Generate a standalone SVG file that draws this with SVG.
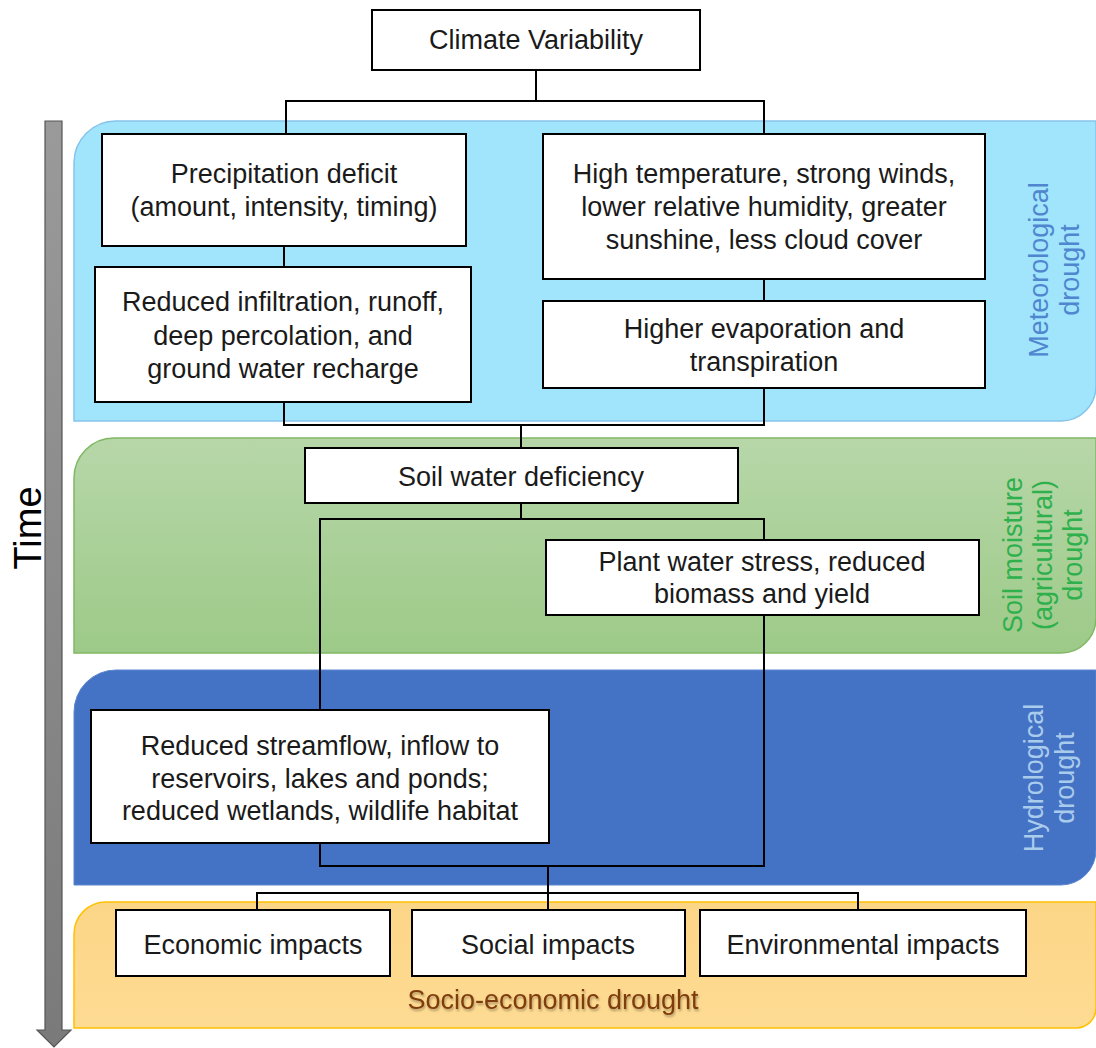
<svg xmlns="http://www.w3.org/2000/svg" width="1096" height="1048" viewBox="0 0 1096 1048">
<defs>
<linearGradient id="gGreen" x1="0" y1="0" x2="0" y2="1"><stop offset="0" stop-color="#b7d7a9"/><stop offset="1" stop-color="#9dca88"/></linearGradient>
<linearGradient id="gYellow" x1="0" y1="0" x2="0" y2="1"><stop offset="0" stop-color="#fcd687"/><stop offset="1" stop-color="#fedb93"/></linearGradient>
<linearGradient id="gArrow" x1="0" y1="0" x2="0" y2="1"><stop offset="0" stop-color="#9a9a9a"/><stop offset="1" stop-color="#7a7a7a"/></linearGradient>
<filter id="sh" x="-5%" y="-20%" width="110%" height="150%"><feDropShadow dx="1" dy="2" stdDeviation="1.2" flood-color="#000" flood-opacity="0.3"/></filter>
<style>
.box{fill:#fff;stroke:#000;stroke-width:2}
.t{font-family:"Liberation Sans",Arial,sans-serif;font-size:27px;fill:#1a1a1a;text-anchor:middle}
.lbl{font-family:"Liberation Sans",Arial,sans-serif;font-size:27px;text-anchor:middle}
.con{fill:none;stroke:#000;stroke-width:2}
</style>
</defs>
<g id="bands">
<path id="band-meteo" d="M74,163 A42,42 0 0 1 116,121 H1096 V386 A35,35 0 0 1 1061,421 H74 Z" fill="#a0e5fc" stroke="#86c3ea" stroke-width="1.5"/>
<path id="band-soil" d="M74,478 A40,40 0 0 1 114,438 H1096 V618 A35,35 0 0 1 1061,653 H74 Z" fill="url(#gGreen)" stroke="#7fb862" stroke-width="1.5"/>
<path id="band-hydro" d="M74,712 A42,42 0 0 1 116,670 H1096 V850 A35,35 0 0 1 1061,885 H74 Z" fill="#4472c4" stroke="#5a86cf" stroke-width="1"/>
<path id="band-socio" d="M74,934 A32,32 0 0 1 106,902 H1096 V1008 A20,20 0 0 1 1076,1028 H74 Z" fill="url(#gYellow)" stroke="#ffc000" stroke-width="1.5"/>
</g>
<g id="time-arrow">
<path d="M45,121 H62 V1030 H71 L54,1047 L37,1030 H45 Z" fill="url(#gArrow)" stroke="#555" stroke-width="1.2"/>
<text transform="translate(41,528) rotate(-90)" font-family="'Liberation Sans',Arial,sans-serif" font-size="38" fill="#000" text-anchor="middle">Time</text>
</g>
<g id="band-labels">
<text class="lbl" fill="#4f86cf" transform="translate(1048,270) rotate(-90)"><tspan x="0" y="0">Meteorological</tspan><tspan x="0" y="31">drought</tspan></text>
<text class="lbl" fill="#2eb04d" transform="translate(1022,555) rotate(-90)"><tspan x="0" y="0">Soil moisture</tspan><tspan x="0" y="30">(agricultural)</tspan><tspan x="0" y="60">drought</tspan></text>
<text class="lbl" fill="#a9cbec" transform="translate(1043,778) rotate(-90)"><tspan x="0" y="0">Hydrological</tspan><tspan x="0" y="31">drought</tspan></text>
<text class="t" style="fill:#7f3d0e" filter="url(#sh)" x="553" y="1009">Socio-economic drought</text>
</g>
<g id="connectors">
<path class="con" d="M536,70 V101 M286,134 V101 H764 V134"/>
<path class="con" d="M764,279 V301"/>
<path class="con" d="M284,246 V267"/>
<path class="con" d="M284,402 V425 H764 V388 M521,425 V448"/>
<path class="con" d="M521,503 V519 M320,710 V519 H764 V540"/>
<path class="con" d="M764,615 V866 H320 V843 M548,866 V910"/>
<path class="con" d="M257,910 V893 H858 V910"/>
</g>
<g id="n-climate"><rect class="box" x="372" y="10" width="328" height="60"/><text class="t" x="536" y="49">Climate Variability</text></g>
<g id="n-precip"><rect class="box" x="102" y="134" width="364" height="112"/><text class="t"><tspan x="284" y="183">Precipitation deficit</tspan><tspan x="284" y="216">(amount, intensity, timing)</tspan></text></g>
<g id="n-hightemp"><rect class="box" x="543" y="134" width="442" height="145"/><text class="t"><tspan x="764" y="183">High temperature, strong winds,</tspan><tspan x="764" y="216">lower relative humidity, greater</tspan><tspan x="764" y="249">sunshine, less cloud cover</tspan></text></g>
<g id="n-infil"><rect class="box" x="95" y="267" width="376" height="135"/><text class="t"><tspan x="283" y="311">Reduced infiltration, runoff,</tspan><tspan x="283" y="345">deep percolation, and</tspan><tspan x="283" y="378">ground water recharge</tspan></text></g>
<g id="n-evap"><rect class="box" x="543" y="301" width="442" height="87"/><text class="t"><tspan x="764" y="338">Higher evaporation and</tspan><tspan x="764" y="371">transpiration</tspan></text></g>
<g id="n-soil"><rect class="box" x="305" y="448" width="433" height="55"/><text class="t" x="521" y="486">Soil water deficiency</text></g>
<g id="n-plant"><rect class="box" x="546" y="540" width="433" height="75"/><text class="t"><tspan x="762" y="571">Plant water stress, reduced</tspan><tspan x="762" y="603">biomass and yield</tspan></text></g>
<g id="n-stream"><rect class="box" x="91" y="710" width="458" height="133"/><text class="t"><tspan x="320" y="755">Reduced streamflow, inflow to</tspan><tspan x="320" y="788">reservoirs, lakes and ponds;</tspan><tspan x="320" y="820">reduced wetlands, wildlife habitat</tspan></text></g>
<g id="n-econ"><rect class="box" x="116" y="910" width="274" height="66"/><text class="t" x="253" y="954">Economic impacts</text></g>
<g id="n-social"><rect class="box" x="412" y="910" width="273" height="66"/><text class="t" x="548" y="954">Social impacts</text></g>
<g id="n-env"><rect class="box" x="700" y="910" width="326" height="66"/><text class="t" x="863" y="954">Environmental impacts</text></g>
</svg>
